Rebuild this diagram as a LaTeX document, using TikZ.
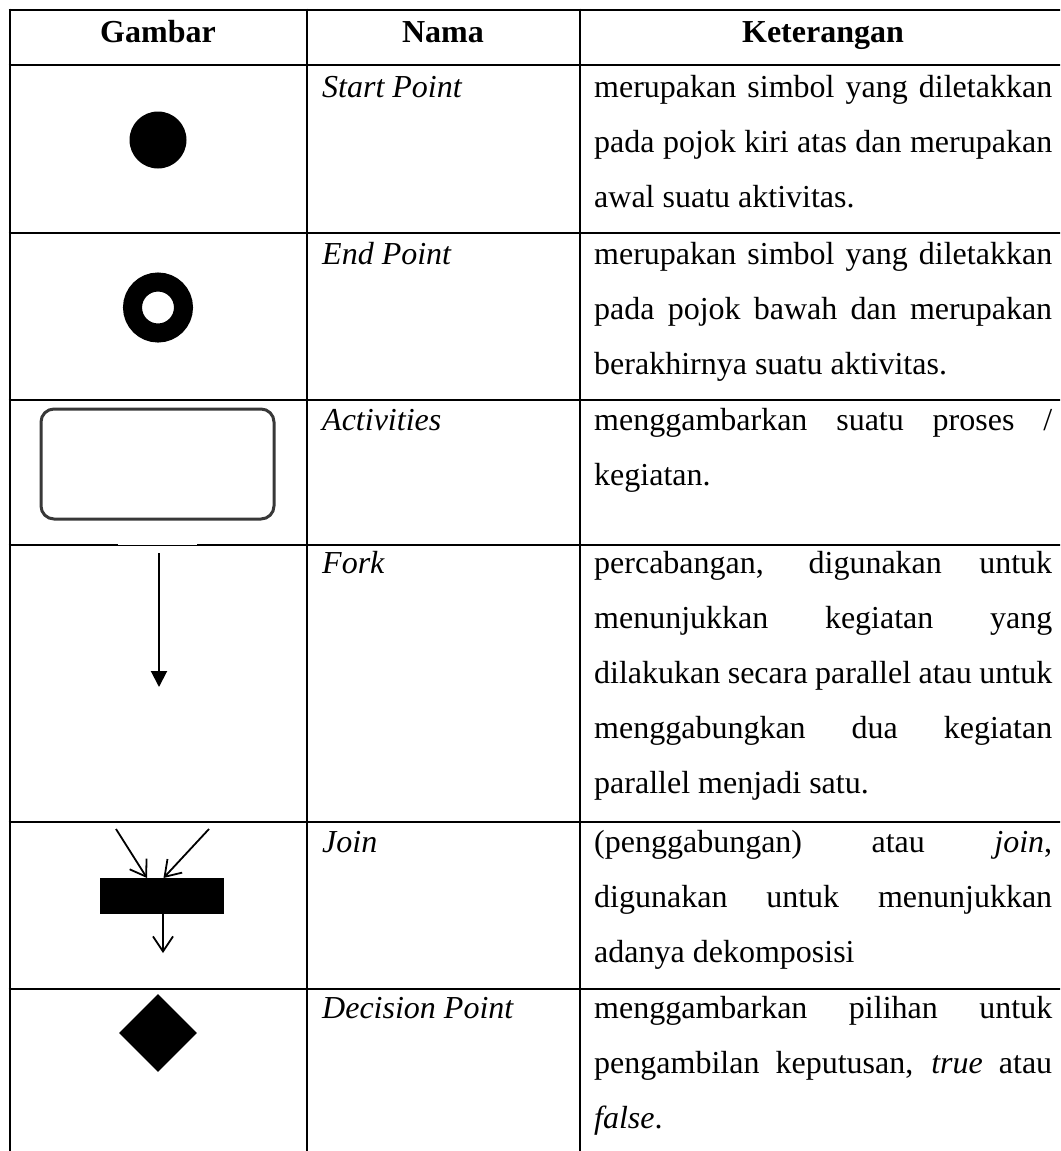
\documentclass[tikz,border=0pt]{standalone}
\usepackage{fontspec}
\setmainfont{Liberation Serif}
\usetikzlibrary{arrows.meta,shapes.geometric}
\newcommand{\jline}[1]{\makebox[458pt][s]{#1}}
\begin{document}
\begin{tikzpicture}[x=1pt,y=-1pt,
  grid/.style={line width=2.7pt},
  hdr/.style={font=\fontsize{32}{55}\selectfont\bfseries, anchor=base, inner sep=0pt},
  nama/.style={font=\fontsize{32}{55}\selectfont\itshape, anchor=base west, inner sep=0pt},
  ket/.style={font=\fontsize{32}{55}\selectfont, anchor=base west, inner sep=0pt},
  dot/.style={circle, fill=black, inner sep=0pt, minimum size=57pt},
  ring/.style={circle, draw=black, line width=19pt, fill=white, inner sep=0pt, outer sep=0pt, minimum size=51pt},
  actbox/.style={rectangle, rounded corners=13pt, draw=black!78, line width=3pt, inner sep=0pt, minimum width=233pt, minimum height=110pt},
  forkline/.style={line width=2pt, -{Triangle[width=16pt,length=16pt]}},
  joinline/.style={line width=1.8pt, -{Straight Barb[length=15pt,width=20pt,line width=1.8pt]}},
  barbox/.style={rectangle, fill=black, inner sep=0pt, minimum width=124pt, minimum height=36pt},
  decision/.style={diamond, fill=black, inner sep=0pt, minimum width=78pt, minimum height=78pt}
]
\useasboundingbox (0,0) rectangle (1060,1151);
\clip (0,0) rectangle (1060,1151);

% table rules
\foreach \yy in {10,65,233,400,545,822,989}
  \draw[grid] (8.65,\yy) -- (1070,\yy);
\foreach \xx in {10,307,580,1066}
  \draw[grid] (\xx,8.65) -- (\xx,1160);
\fill[white] (118,543) rectangle (197,545.1);

% header
\node[hdr] (hGambar) at (158,42) {Gambar};
\node[hdr] (hNama) at (443,42) {Nama};
\node[hdr] (hKet) at (823,42) {Keterangan};

% row 1
\node[dot] (start) at (158,140) {};
\node[nama] (n1) at (322,97) {Start Point};
\node[ket] (k1) at (594,97) {\parbox[t]{458pt}{\jline{merupakan simbol yang diletakkan}\\
\jline{pada pojok kiri atas dan merupakan}\\
awal suatu aktivitas.}};

% row 2
\node[ring] (endp) at (158,307.5) {};
\node[nama] (n2) at (322,264) {End Point};
\node[ket] (k2) at (594,264) {\parbox[t]{458pt}{\jline{merupakan simbol yang diletakkan}\\
\jline{pada pojok bawah dan merupakan}\\
berakhirnya suatu aktivitas.}};

% row 3
\node[actbox] (act) at (157.5,464) {};
\node[nama] (n3) at (322,430) {Activities};
\node[ket] (k3) at (594,430) {\parbox[t]{458pt}{\jline{menggambarkan suatu proses /}\\
kegiatan.}};

% row 4
\coordinate (f1) at (159,553);
\coordinate (f2) at (159,687);
\draw[forkline] (f1) -- (f2);
\node[nama] (n4) at (322,573) {Fork};
\node[ket] (k4) at (594,573) {\parbox[t]{458pt}{\jline{percabangan, digunakan untuk}\\
\jline{menunjukkan kegiatan yang}\\
\jline{dilakukan secara parallel atau untuk}\\
\jline{menggabungkan dua kegiatan}\\
parallel menjadi satu.}};

% row 5
\node[barbox] (bar) at (162,896) {};
\coordinate (jl) at (116,829);
\coordinate (jr) at (209,829);
\coordinate (jlt) at (147,878);
\coordinate (jrt) at (163.5,878);
\coordinate (jout) at (163,953);
\draw[joinline] (jl) -- (jlt);
\draw[joinline] (jr) -- (jrt);
\draw[joinline] (bar.south -| jout) -- (jout);
\node[nama] (n5) at (322,852) {Join};
\node[ket] (k5) at (594,852) {\parbox[t]{458pt}{\jline{(penggabungan) atau \textit{join},}\\
\jline{digunakan untuk menunjukkan}\\
adanya dekomposisi}};

% row 6
\node[decision] (dec) at (158,1033) {};
\node[nama] (n6) at (322,1018) {Decision Point};
\node[ket] (k6) at (594,1018) {\parbox[t]{458pt}{\jline{menggambarkan pilihan untuk}\\
\jline{pengambilan keputusan, \textit{true} atau}\\
\textit{false}.}};
\end{tikzpicture}
\end{document}
